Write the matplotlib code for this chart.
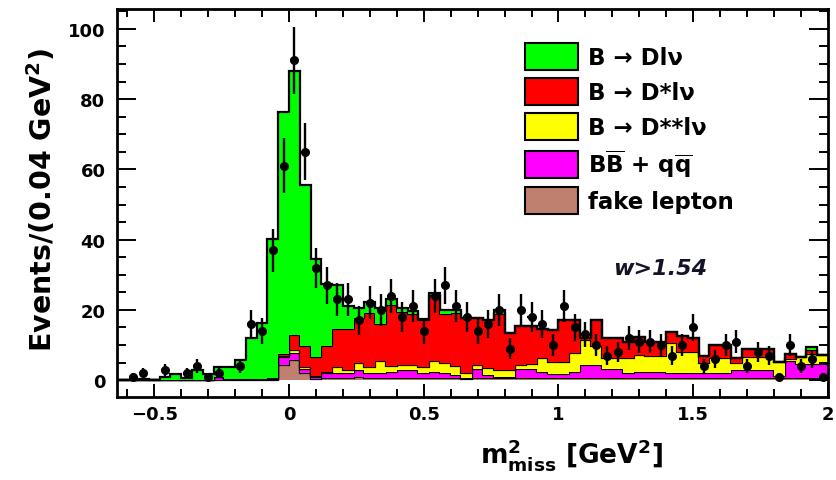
import numpy as np
import matplotlib
matplotlib.use("Agg")
import matplotlib.pyplot as plt
from matplotlib.patches import Patch
from matplotlib.ticker import MultipleLocator, FuncFormatter

# binning: 0.04 GeV^2 bins from -0.64 to 2.0
x_low = -0.64
bin_width = 0.04

# stacked MC components, bottom to top (events per bin)
fake_lepton = [0, 0, 0, 0, 0, 0, 0, 0, 0, 0, 0, 0, 0, 0, 0, 4.3, 5.7, 1.9, 0.3, 0.7,
               0.7, 0.7, 0.9, 0.7, 0.7, 0.7, 0.7, 0.7, 0.7, 0.7, 0.7, 0.5, 0.3, 0.5, 0.5, 0.5,
               0.5, 0.5, 0.5, 0.5, 0.5, 0.5, 0.5, 0.5, 0.5, 0.5, 0.5, 0.5, 0.5, 0.5, 0.5, 0.5,
               0.5, 0.5, 0.5, 0.5, 0.5, 0.5, 0.5, 0.5, 0.5, 0.5, 0.5, 0.5, 0.5, 0.5]
bb_qq = [0, 0, 0, 0, 0, 0, 0, 0, 0, 1.0, 0.3, 0.2, 0.2, 0.2, 0.3, 2.2, 1.9, 1.4, 0.6, 1.3,
         1.4, 1.2, 2.1, 1.2, 1.4, 1.7, 2.3, 2.2, 1.2, 1.7, 1.2, 0.9, 0.2, 2.8, 0.9, 0.5,
         0.5, 2.6, 2.6, 1.9, 1.2, 1.2, 1.9, 3.8, 3.8, 2.6, 2.6, 1.4, 1.9, 1.9, 1.9, 1.4,
         1.4, 1.4, 1.4, 1.4, 1.4, 2.5, 2.5, 2.5, 2.5, 0.7, 5.0, 4.0, 4.0, 4.0]
d_2star_lnu = [0, 0, 0, 0, 0, 0, 0, 0, 0, 0, 0, 0, 0, 0.1, 0, 0.5, 1.0, 0.3, 0.2, 0.2,
               1.7, 1.0, 2.0, 1.9, 3.3, 1.6, 1.3, 1.4, 1.7, 3.0, 2.9, 2.6, 1.6, 1.0, 2.0, 1.9,
               1.9, 1.2, 1.4, 3.8, 3.6, 3.6, 5.3, 7.2, 5.3, 3.1, 3.1, 4.3, 4.8, 4.6, 4.6, 8.6,
               6.2, 6.2, 3.1, 4.3, 4.3, 1.8, 3.7, 3.7, 3.7, 4.0, 0.5, 2.0, 3.0, 2.7]
d_star_lnu = [0, 0, 0, 0, 0, 0, 0, 0, 0, 0, 0, 0, 0.1, 0, 0.2, 0.5, 4.3, 6.0, 5.6, 7.4,
              10.7, 11.6, 12.7, 15.3, 10.6, 17.5, 15.2, 14.5, 13.6, 18.6, 14.0, 15.0, 15.6, 13.4, 13.8, 15.8,
              10.5, 11.2, 11.0, 8.3, 9.1, 11.7, 9.3, 0.5, 7.6, 5.8, 5.8, 4.8, 5.2, 3.8, 3.8, 3.2,
              4.6, 3.9, 2.0, 3.8, 3.8, 1.4, 2.1, 2.1, 2.1, 0.1, 1.5, 0, 1.0, 0]
d_lnu = [0, 0, 0.3, 0, 1.0, 1.8, 0.5, 2.8, 1.8, 2.6, 3.3, 5.5, 11.7, 16.0, 39.7, 68.8, 75.1, 45.9, 27.9, 17.9,
         12.5, 6.5, 2.7, 3.1, 4.4, 1.5, 0.9, 1.0, 0.2, 0.9, 1.2, 1.0, 0, 0, 0, 1.4,
         0, 0, 0, 0, 0, 0, 0, 0, 0, 0, 0, 0, 0, 0, 0, 0,
         0, 0, 0, 0, 0, 0, 0, 0, 0, 0, 0, 0, 0.8, 0]

# data (nan = empty bin, no marker drawn)
data = [np.nan, 1, 2, np.nan, 3, np.nan, 2, 4, 1, 2, np.nan, 4, 16, 14, 37, 61, 91, 65, 32, 27,
        23, 23, 17, 22, 20, 24, 18, 21, 14, 24, 27, 21, 18, 14, 16, 20,
        9, 20, 18, 16, 10, 21, 15, 13, 10, 7, 8, 12, 11, 11, 10, 7,
        10, 15, 4, 6, 10, 11, 4, 8, 7, 1, 10, 4, 6, 1]

labels = ["B → Dlν", "B → D*lν", "B → D**lν",
          r"B$\overline{\mathrm{B}}$ + q$\overline{\mathrm{q}}$", "fake lepton"]
colors = ["#00ff00", "#ff0000", "#ffff00", "#ff00ff", "#c0806f"]

plt.rcParams["font.family"] = "DejaVu Sans"
plt.rcParams["font.weight"] = "bold"
plt.rcParams["mathtext.default"] = "bf"
plt.rcParams["mathtext.fontset"] = "dejavusans"

W, H = 836, 481
fig = plt.figure(figsize=(W / 100, H / 100), dpi=100)
ax = fig.add_axes([116.5 / W, 1 - 398 / H, (828 - 116.5) / W, (398 - 9.5) / H])

n = len(data)
edges = x_low + bin_width * np.arange(n + 1)
centers = 0.5 * (edges[1:] + edges[:-1])

stack = [fake_lepton, bb_qq, d_2star_lnu, d_star_lnu, d_lnu]
stack_colors = colors[::-1]
bottom = np.zeros(n)
for vals, col in zip(stack, stack_colors):
    top = bottom + np.asarray(vals, float)
    ax.stairs(top, edges, baseline=bottom, fill=True, color=col, lw=0)
    ax.stairs(top, edges, baseline=None, color="k", lw=1.6)
    bottom = top

d = np.asarray(data, float)
ok = ~np.isnan(d)
ax.errorbar(centers[ok], d[ok], yerr=np.sqrt(d[ok]), xerr=0.015, fmt="o", color="k",
            ms=5.5, elinewidth=1.7, capsize=0, zorder=5)

ax.set_xlim(-0.64, 2.0)
ax.set_ylim(-4.8, 105.8)
ax.xaxis.set_major_locator(MultipleLocator(0.5))
ax.xaxis.set_minor_locator(MultipleLocator(0.1))
ax.yaxis.set_major_locator(MultipleLocator(20))
ax.yaxis.set_minor_locator(MultipleLocator(5))
ax.xaxis.set_major_formatter(FuncFormatter(lambda v, p: f"{v:g}".replace("-", "\u2212")))
ax.tick_params(which="both", direction="in", top=True, right=True, width=1.4, labelsize=13)
ax.tick_params(axis="x", which="major", length=9.5, pad=6)
ax.tick_params(axis="x", which="minor", length=5.5)
ax.tick_params(axis="y", which="major", length=13.5, pad=8)
ax.tick_params(axis="y", which="minor", length=6.5)
for s in ax.spines.values():
    s.set_linewidth(2)

fig.text(42 / W, 1 - 200 / H, r"Events/(0.04 GeV$^{2}$)", rotation=90,
         ha="center", va="center", fontsize=20.5)
fig.text(571 / W, 1 - 455 / H, r"$\mathrm{m^2_{miss}}$ [GeV$^{2}$]",
         ha="center", va="center", fontsize=19)

ax.text(1.377, 32, "w>1.54", style="italic", fontsize=16, color="#141428",
        ha="center", va="center")

handles = [Patch(facecolor=c, edgecolor="k", lw=1.5) for c in colors]
fig.legend(handles, labels, loc="upper left", bbox_to_anchor=(525 / W, 1 - 44 / H),
           frameon=False, fontsize=16.5, borderpad=0, handlelength=2.3, handleheight=1.45,
           handletextpad=0.45, labelspacing=0.33, borderaxespad=0)

fig.savefig("out.png", dpi=100)
